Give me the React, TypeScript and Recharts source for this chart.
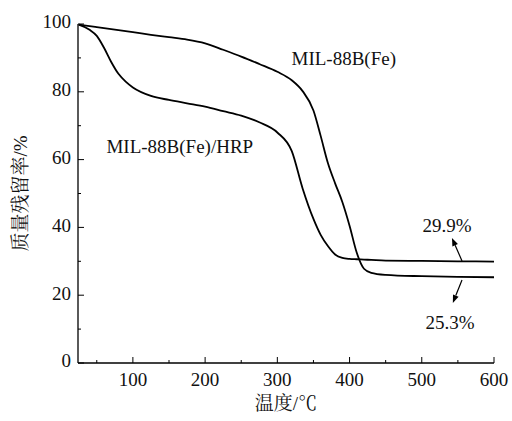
import { LineChart, Line, XAxis, YAxis, ReferenceDot, ReferenceLine } from 'recharts';

const temps = [25, 40, 50, 60, 70, 80, 90, 100, 125, 150, 175, 200, 225, 250, 275, 300, 320, 335, 350, 360, 370, 380, 390, 400, 410, 420, 430, 450, 500, 550, 600];
const mil88b = [99.8, 99.4, 99.1, 98.8, 98.5, 98.2, 97.9, 97.6, 96.8, 96.1, 95.4, 94.3, 92.4, 90.4, 88.2, 85.9, 83.4, 80.2, 74.5, 67, 59, 53, 47.5, 40.5, 32.5, 27.8, 26.6, 26.0, 25.6, 25.4, 25.3];
const mil88bHrp = [99.8, 98.3, 96.5, 93, 88.8, 85.3, 83, 81.3, 78.8, 77.6, 76.6, 75.6, 74.3, 73, 71, 68, 62.5, 51.5, 42.5, 37.8, 34.5, 32, 31, 30.7, 30.6, 30.5, 30.4, 30.2, 30.1, 30, 29.9];

const xMajor = [100, 200, 300, 400, 500, 600];
const xTicks = [50, 100, 150, 200, 250, 300, 350, 400, 450, 500, 550, 600];
const yMajor = [0, 20, 40, 60, 80, 100];
const yTicks = [0, 10, 20, 30, 40, 50, 60, 70, 80, 90, 100];

const data = temps.map((t, i) => ({ t, a: mil88b[i], b: mil88bHrp[i] }));

const FONT = "'Liberation Serif', 'Noto Serif CJK SC', serif";

const XTick = (props: any) => {
  const { x, y, payload } = props;
  const major = xMajor.includes(payload.value);
  const axisY = y - 8;
  return (
    <g>
      <line x1={x} x2={x} y1={axisY} y2={axisY - (major ? 6 : 3)} stroke="#000" strokeWidth={1} />
      {major && (
        <text x={x} y={axisY + 19} textAnchor="middle" dominantBaseline="middle" style={{ fontFamily: FONT, fontSize: 19, fill: '#111' }}>
          {payload.value}
        </text>
      )}
    </g>
  );
};

const YTick = (props: any) => {
  const { x, y, payload } = props;
  const major = yMajor.includes(payload.value);
  const axisX = x + 10;
  return (
    <g>
      <line x1={axisX} x2={axisX + (major ? 6 : 3)} y1={y} y2={y} stroke="#000" strokeWidth={1} />
      {major && (
        <text x={axisX - 7} y={y} textAnchor="end" dominantBaseline="middle" style={{ fontFamily: FONT, fontSize: 19, fill: '#111' }}>
          {payload.value}
        </text>
      )}
    </g>
  );
};

const Arrow = (props: any) => {
  const { x1, y1, x2, y2 } = props;
  const ang = Math.atan2(y2 - y1, x2 - x1);
  const len = 8;
  const w = 3;
  const bx = x2 - len * Math.cos(ang);
  const by = y2 - len * Math.sin(ang);
  const px = -Math.sin(ang) * w;
  const py = Math.cos(ang) * w;
  return (
    <g>
      <line x1={x1} y1={y1} x2={bx} y2={by} stroke="#000" strokeWidth={1.2} />
      <polygon points={`${x2},${y2} ${bx + px},${by + py} ${bx - px},${by - py}`} fill="#000" />
    </g>
  );
};

const labelStyle = { fontFamily: FONT, fontSize: 19, fill: '#111' };

export default function App() {
  return (
    <div style={{ position: 'absolute', left: 0, top: 0, width: 512, height: 421, background: '#fff', fontFamily: FONT }}>
      <LineChart width={512} height={421} data={data} margin={{ top: 24, right: 18, bottom: 28, left: 38 }} style={{ fontFamily: FONT }}>
        <XAxis
          dataKey="t"
          type="number"
          domain={[24, 600]}
          ticks={xTicks}
          interval={0}
          height={30}
          tickSize={0}
          tickMargin={8}
          tick={<XTick />}
          axisLine={{ stroke: '#000', strokeWidth: 1.3 }}
          tickLine={false}
          label={{ value: '温度/℃', position: 'insideBottom', offset: -17, style: { fontFamily: FONT, fontSize: 19, fill: '#111' } }}
        />
        <YAxis
          type="number"
          domain={[0, 100]}
          ticks={yTicks}
          interval={0}
          width={40}
          tickSize={0}
          tickMargin={10}
          tick={<YTick />}
          axisLine={{ stroke: '#000', strokeWidth: 1.3 }}
          tickLine={false}
          label={{ value: '质量残留率/%', angle: -90, position: 'insideLeft', offset: -18, style: { fontFamily: FONT, fontSize: 19, fill: '#111', textAnchor: 'middle' } }}
        />
        <Line type="monotone" dataKey="a" stroke="#000" strokeWidth={1.8} dot={false} isAnimationActive={false} />
        <Line type="monotone" dataKey="b" stroke="#000" strokeWidth={1.8} dot={false} isAnimationActive={false} />
        <ReferenceDot x={392} y={90} r={0} label={{ value: 'MIL-88B(Fe)', position: 'center', style: labelStyle }} />
        <ReferenceDot x={165} y={64} r={0} label={{ value: 'MIL-88B(Fe)/HRP', position: 'center', style: labelStyle }} />
        <ReferenceDot x={535} y={40.7} r={0} label={{ value: '29.9%', position: 'center', style: labelStyle }} />
        <ReferenceDot x={539} y={12.1} r={0} label={{ value: '25.3%', position: 'center', style: labelStyle }} />
        <ReferenceLine segment={[{ x: 555.7, y: 30.1 }, { x: 541.8, y: 36.9 }]} shape={<Arrow />} />
        <ReferenceLine segment={[{ x: 555.7, y: 24.5 }, { x: 543, y: 17.7 }]} shape={<Arrow />} />
      </LineChart>
    </div>
  );
}
